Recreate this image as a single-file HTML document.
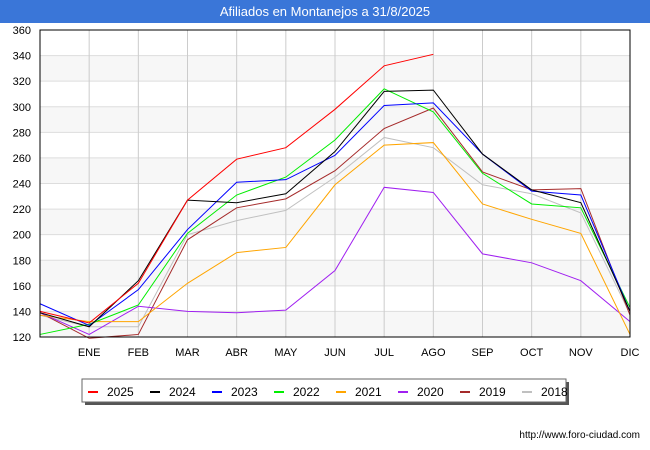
<!DOCTYPE html>
<html><head><meta charset="utf-8"><style>
body{margin:0;background:#fff;font-family:"Liberation Sans","DejaVu Sans",sans-serif}
#wrap{position:relative;width:650px;height:450px;overflow:hidden}
</style></head><body><div id="wrap">
<svg id="svg" width="650" height="450" xmlns="http://www.w3.org/2000/svg">
<rect x="0" y="0" width="650" height="23" fill="#3a76d8"/>
<text x="325" y="16" text-anchor="middle" fill="#fff" font-size="13">Afiliados en Montanejos a 31/8/2025</text>
<g id="grid"></g><g id="series"></g><g id="axes"></g><g id="legend"></g>
<text x="640" y="438" text-anchor="end" font-size="10" fill="#000">http://www.foro-ciudad.com</text>
</svg></div>
<script>
const months=["","ENE","FEB","MAR","ABR","MAY","JUN","JUL","AGO","SEP","OCT","NOV","DIC"];
const yTicks=[120,140,160,180,200,220,240,260,280,300,320,340,360];
const years=["2025","2024","2023","2022","2021","2020","2019","2018"];
const colors=["#ff0000","#000000","#0000ff","#00ee00","#ffa500","#a020f0","#a52a2a","#c0c0c0"];
const s2025=[140,131,162,227,259,268,298,332,341];
const s2024=[139,128,164,227,225,232,265,312,313,263,235,225,140];
const s2023=[146,129,157,204,241,243,262,301,303,263,234,231,140];
const s2022=[122,130,145,201,231,245,274,314,296,248,224,221,143];
const s2021=[137,132,132,162,186,190,239,270,272,224,212,201,122];
const s2020=[139,122,144,140,139,141,172,237,233,185,178,164,132];
const s2019=[139,119,122,196,221,228,250,283,299,249,235,236,137];
const s2018=[137,128,128,200,211,219,245,276,268,239,232,217,138];
const seriesData=[s2025,s2024,s2023,s2022,s2021,s2020,s2019,s2018];
const X0=40,X1=630,Y0=337,Y1=30,ymin=120,ymax=360;
const xs=i=>X0+(X1-X0)*i/(months.length-1);
const ys=v=>Y0-(v-ymin)/(ymax-ymin)*(Y0-Y1);
const NS="http://www.w3.org/2000/svg";
function mk(t,a,p){const e=document.createElementNS(NS,t);for(const k in a)e.setAttribute(k,a[k]);p.appendChild(e);return e;}
const grid=document.getElementById('grid'),axes=document.getElementById('axes'),ser=document.getElementById('series'),leg=document.getElementById('legend');
for(let i=0;i<yTicks.length-1;i++){if(i%2==0){const r=mk('rect',{x:X0,y:ys(yTicks[i+1]),width:X1-X0,height:ys(yTicks[i])-ys(yTicks[i+1]),fill:'#f7f7f7'},grid);}}
yTicks.forEach(v=>{const l=mk('line',{x1:X0,x2:X1,y1:ys(v),y2:ys(v),stroke:'#dddddd'},grid);
const t=mk('text',{x:31,y:ys(v)+4,'text-anchor':'end','font-size':11,fill:'#000'},axes);t.textContent=v;});
months.forEach((m,i)=>{const l=mk('line',{x1:xs(i),x2:xs(i),y1:Y1,y2:Y0,stroke:'#cccccc'},grid);
if(m){const t=mk('text',{x:xs(i),y:356,'text-anchor':'middle','font-size':11,fill:'#000'},axes);t.textContent=m;}});
const fr=mk('rect',{x:X0,y:Y1,width:X1-X0,height:Y0-Y1,fill:'none',stroke:'#000','stroke-width':1},axes);

for(let k=seriesData.length-1;k>=0;k--){const d=seriesData[k];const p=mk('polyline',{points:d.map((v,i)=>xs(i)+','+ys(v)).join(' '),fill:'none',stroke:colors[k],'stroke-width':1},ser);
}
const sh=mk('rect',{x:85,y:382,width:484,height:23,fill:'#555'},leg);
const lb=mk('rect',{x:82,y:379,width:484,height:23,fill:'#fff',stroke:'#666'},leg);
years.forEach((y,k)=>{const x=88+k*62;const l=mk('line',{x1:x,x2:x+10,y1:392,y2:392,stroke:colors[k],'stroke-width':2},leg);
const t=mk('text',{x:x+19,y:396,'font-size':12,fill:'#000'},leg);t.textContent=y;});
</script></body></html>
